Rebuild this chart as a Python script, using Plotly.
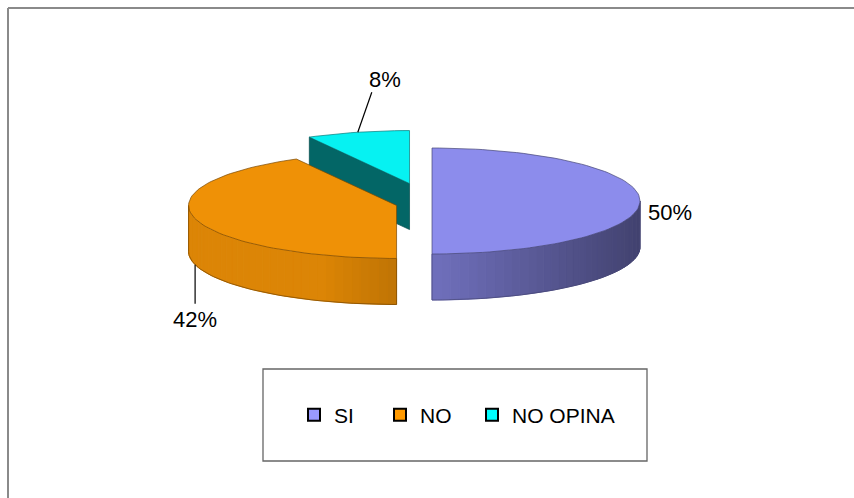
import math
import plotly.graph_objects as go

# ---- data ----
categories = ["SI", "NO", "NO OPINA"]
values = [50, 42, 8]
legend_colors = ["#9999FF", "#FF9900", "#00FFFF"]
top_colors = ["#8C8CEC", "#EF9106", "#06F2F2"]

# ---- geometry / style (pixel space of the 854x498 canvas) ----
W, H = 854, 498
CX, CY = 414, 201       # centre of the unexploded pie top
RX, RY = 208, 53        # ellipse radii of the tilted pie
DEPTH = 46              # thickness of the 3D pie
EXPLODE = 18            # explosion distance
LEGEND_X = [294, 380, 472]   # left edge of each legend entry (px)


def shade(hexcol, f):
    h = hexcol.lstrip("#")
    r, g, b = (int(h[i:i + 2], 16) for i in (0, 2, 4))
    c = [max(0, min(255, int(round(v * f)))) for v in (r, g, b)]
    return "#%02X%02X%02X" % tuple(c)


def rim(cx, cy, th, dz=0.0):
    return cx + RX * math.sin(th), cy - RY * math.cos(th) + dz


def poly(xs, ys, fill, line, lw):
    return go.Scatter(x=xs + [xs[0]], y=ys + [ys[0]], mode="lines", fill="toself",
                      fillcolor=fill, line=dict(color=line, width=lw),
                      hoverinfo="skip", showlegend=False)


total = float(sum(values))
slices = []
acc = 0.0
for i, v in enumerate(values):
    ts = 2 * math.pi * acc / total
    acc += v
    te = 2 * math.pi * acc / total
    mid = (ts + te) / 2
    cx = CX + EXPLODE * math.sin(mid)
    cy = CY - EXPLODE * math.cos(mid)
    slices.append(dict(i=i, ts=ts, te=te, mid=mid, cx=cx, cy=cy))

fig = go.Figure()

# back to front
for s in sorted(slices, key=lambda s: -math.cos(s["mid"])):
    i, ts, te, cx, cy = s["i"], s["ts"], s["te"], s["cx"], s["cy"]
    base = top_colors[i]
    edge = shade(base, 0.5)
    # radial walls
    for th, visible in ((ts, math.sin(ts) < -1e-6), (te, math.sin(te) > 1e-6)):
        if visible:
            x1, y1 = rim(cx, cy, th)
            fig.add_trace(poly([cx, x1, x1, cx], [cy, y1, y1 + DEPTH, cy + DEPTH],
                               shade(base, 0.42), shade(base, 0.3), 0.7))
    # curved front side
    a0 = max(ts, math.pi / 2)
    a1 = min(te, 3 * math.pi / 2)
    if a1 > a0:
        n = max(2, int(math.degrees(a1 - a0) / 2.5))
        for k in range(n):
            ta = a0 + (a1 - a0) * k / n
            tb = a0 + (a1 - a0) * (k + 1) / n
            tm = (ta + tb) / 2
            f = max(0.42, min(0.92, 0.8 - 0.33 * math.sin(tm)))
            xa, ya = rim(cx, cy, ta)
            xb, yb = rim(cx, cy, tb)
            col = shade(base, f)
            fig.add_trace(poly([xa, xb, xb, xa], [ya, yb, yb + DEPTH, ya + DEPTH], col, col, 1))
        m = 60
        arc = [a0 + (a1 - a0) * k / m for k in range(m + 1)]
        ox = [rim(cx, cy, t)[0] for t in arc]
        oy = [rim(cx, cy, t, DEPTH)[1] for t in arc]
        x0s, y0s = rim(cx, cy, a0)
        x1s, y1s = rim(cx, cy, a1)
        fig.add_trace(go.Scatter(x=[x0s] + ox + [x1s], y=[y0s] + oy + [y1s], mode="lines",
                                 line=dict(color=edge, width=0.7), hoverinfo="skip",
                                 showlegend=False))
    # top face
    m = max(4, int(math.degrees(te - ts) / 2))
    arc = [ts + (te - ts) * k / m for k in range(m + 1)]
    xs = [cx] + [rim(cx, cy, t)[0] for t in arc]
    ys = [cy] + [rim(cx, cy, t)[1] for t in arc]
    fig.add_trace(poly(xs, ys, base, edge, 0.7))

# data labels with leader lines
S = {s["i"]: s for s in slices}
lab_font = dict(family="Liberation Sans, Arial, sans-serif", size=22, color="black")

# SI
s = S[0]
px, py = rim(s["cx"], s["cy"], s["mid"])
fig.add_annotation(x=px + 6, y=py + 11, text=f"{values[0]}%", showarrow=False,
                   xanchor="left", yanchor="middle", font=lab_font)
# NO
s = S[1]
px, py = rim(s["cx"], s["cy"], s["mid"], DEPTH)
fig.add_trace(go.Scatter(x=[px, px], y=[py, py + 39], mode="lines",
                         line=dict(color="black", width=1.2), hoverinfo="skip", showlegend=False))
fig.add_annotation(x=px, y=py + 55, text=f"{values[1]}%", showarrow=False,
                   xanchor="center", yanchor="middle", font=lab_font)
# NO OPINA
s = S[2]
px, py = rim(s["cx"], s["cy"], s["mid"])
fig.add_trace(go.Scatter(x=[px, px + 14], y=[py, py - 40], mode="lines",
                         line=dict(color="black", width=1.2), hoverinfo="skip", showlegend=False))
fig.add_annotation(x=px + 27, y=py - 53, text=f"{values[2]}%", showarrow=False,
                   xanchor="center", yanchor="middle", font=lab_font)

# legend entries (one legend per entry for exact placement)
legend_font = dict(family="Liberation Sans, Arial, sans-serif", size=21, color="black")
legend_layouts = {}
for k, (cat, col) in enumerate(zip(categories, legend_colors)):
    lname = "legend" if k == 0 else f"legend{k + 1}"
    fig.add_trace(go.Scatter(x=[None], y=[None], mode="markers", name=cat, legend=lname,
                             marker=dict(symbol="square", size=12, color=col,
                                         line=dict(color="black", width=2))))
    legend_layouts[lname] = dict(orientation="h", x=LEGEND_X[k] / W, xanchor="left",
                                 y=1 - 415 / H, yanchor="middle",
                                 bgcolor="rgba(0,0,0,0)", borderwidth=0,
                                 font=legend_font, itemwidth=30)

fig.update_layout(
    width=W, height=H,
    margin=dict(l=0, r=0, t=0, b=0),
    paper_bgcolor="white", plot_bgcolor="white",
    xaxis=dict(range=[0, W], visible=False, fixedrange=True),
    yaxis=dict(range=[H, 0], visible=False, fixedrange=True),
    showlegend=True,
    shapes=[
        dict(type="rect", xref="paper", yref="paper", x0=263 / W, x1=647 / W,
             y0=1 - 461 / H, y1=1 - 369 / H, line=dict(color="#666666", width=1.3),
             fillcolor="rgba(0,0,0,0)", layer="below"),
        dict(type="line", xref="paper", yref="paper", x0=8 / W, x1=1, y0=1 - 8 / H, y1=1 - 8 / H,
             line=dict(color="#8A8A8A", width=2)),
        dict(type="line", xref="paper", yref="paper", x0=8 / W, x1=8 / W, y0=0, y1=1 - 8 / H,
             line=dict(color="#8A8A8A", width=2)),
    ],
    **legend_layouts,
)

fig.write_html("out.html", config={"displayModeBar": False},
               post_script="document.body.style.margin='0';")
